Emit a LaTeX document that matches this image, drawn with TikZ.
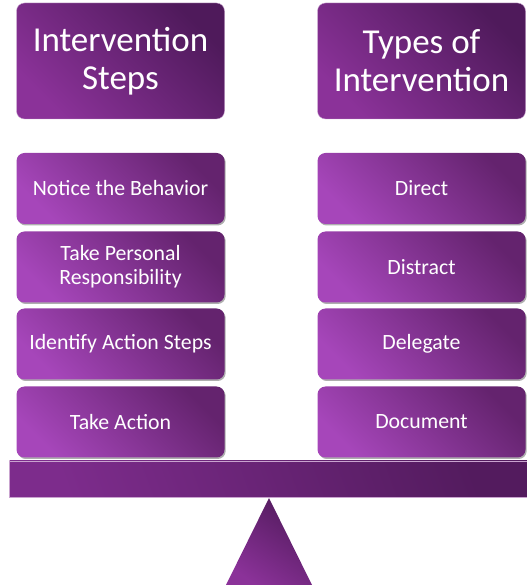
\documentclass[tikz,border=0pt]{standalone}
\usepackage{fontspec}
\setmainfont{Carlito}
\usetikzlibrary{shadows}
\definecolor{hdlight}{HTML}{8B3299}
\definecolor{hddark}{HTML}{4F1A5B}
\definecolor{bxlight}{HTML}{A646BA}
\definecolor{bxdark}{HTML}{64236E}
\definecolor{barlight}{HTML}{7D2C8C}
\definecolor{bardark}{HTML}{531B5E}
\definecolor{edgecol}{HTML}{C9A3CF}
\tikzset{
  header/.style={rectangle, rounded corners=8pt, minimum width=208pt, minimum height=116pt,
    inner sep=0pt, align=center, text=white, font=\fontsize{35}{38}\selectfont,
    draw=edgecol, line width=0.4pt,
    top color=hddark, bottom color=hdlight, shading angle=-45},
  stepbox/.style={rectangle, rounded corners=8pt, minimum width=208pt, minimum height=71pt,
    inner sep=0pt, align=center, text=white, font=\fontsize{21.8}{24}\selectfont,
    top color=bxdark, bottom color=bxlight, shading angle=-45,
    drop shadow={shadow xshift=1.2pt, shadow yshift=-1.5pt, opacity=0.45, fill=black!70}},
}
\begin{document}
\begin{tikzpicture}[x=1pt,y=1pt]
\useasboundingbox (0,0) rectangle (527,587);
% headers
\node[header] (hl) at (120.5,526) {Intervention\\Steps};
\node[header] (hr) at (421.5,526) {Types of\\Intervention};
% left column
\node[stepbox] (l1) at (120.5,398.5) {Notice the Behavior};
\node[stepbox] (l2) at (120.5,320) {Take Personal\\Responsibility};
\node[stepbox] (l3) at (120.5,243) {Identify Action Steps};
\node[stepbox] (l4) at (120.5,165) {Take Action};
% right column
\node[stepbox] (r1) at (421.5,398.5) {Direct};
\node[stepbox] (r2) at (421.5,320) {Distract};
\node[stepbox] (r3) at (421.5,243) {Delegate};
\node[stepbox] (r4) at (421.5,165) {Document};
% beam
\shade[draw=edgecol, line width=0.4pt, top color=bardark, bottom color=barlight, shading angle=-70]
  (9.5,90) rectangle (527,126);
% fulcrum
\shade[top color=bardark, bottom color=hdlight, shading angle=-35]
  (226,2) -- (269,89) -- (312,2) -- cycle;
\end{tikzpicture}
\end{document}
